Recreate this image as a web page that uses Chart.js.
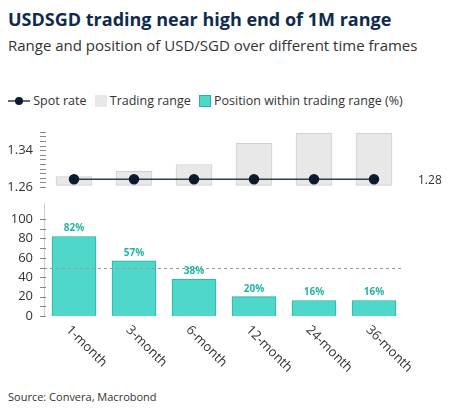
<!DOCTYPE html>
<html><head><meta charset="utf-8">
<script src="https://cdn.jsdelivr.net/npm/chart.js@4"></script>
<style>
body{margin:0;width:455px;height:416px;font-family:"Open Sans",sans-serif;background:#fff;position:relative;overflow:hidden}
#t{position:absolute;left:8px;top:7px;font-size:18px;font-weight:bold;color:#0d2b4e}
#s{position:absolute;left:8px;top:34px;font-size:15px;color:#333;line-height:22px;width:420px}
#lg{position:absolute;left:8px;top:92px;font-size:12.5px;color:#333;display:flex;align-items:center}
#lg span{display:inline-flex;align-items:center;margin-right:8px}
#src{position:absolute;left:8px;top:389px;font-size:11px;color:#333}
#c1{position:absolute;left:0;top:121px}
#c2{position:absolute;left:0;top:203px}
</style></head><body>
<div id="t">USDSGD trading near high end of 1M range</div>
<div id="s">Range and position of USD/SGD over different time frames</div>
<div id="lg">
<span><svg width="22" height="10"><line x1="0" y1="5" x2="22" y2="5" stroke="#2b3e50" stroke-width="1.5"/><circle cx="11" cy="5" r="4" fill="#0d1b2e"/></svg>&nbsp;Spot rate</span>
<span><svg width="12" height="12"><rect width="12" height="12" fill="#e8e8e8"/></svg>&nbsp;Trading range</span>
<span><svg width="12" height="12"><rect x="0.5" y="0.5" width="11" height="11" fill="#4fd8c9" stroke="#22b3a3"/></svg>&nbsp;Position within trading range (%)</span>
</div>
<canvas id="c1" width="455" height="80"></canvas>
<canvas id="c2" width="455" height="183"></canvas>
<div id="src">Source: Convera, Macrobond</div>
<script>
const periods = ['1-month','3-month','6-month','12-month','24-month','36-month'];
const rangeLow = [1.2635,1.2635,1.2635,1.2635,1.2635,1.2635];
const rangeHigh = [1.2826,1.294,1.309,1.355,1.377,1.377];
const spot = [1.277,1.277,1.277,1.277,1.277,1.277];
const position = [82,57,38,20,16,16];
const posLabels = ['82%','57%','38%','20%','16%','16%'];
const spotLabel = '1.28';

const font = {family:'"Open Sans",sans-serif'};
const yw = {afterFit: s => { s.width = 44; }};
const commonX = {offset:true, grid:{display:false}, border:{display:false}};

new Chart(document.getElementById('c1'), {
  data: {
    labels: periods,
    datasets: [
      {type:'line', data:spot, borderColor:'#2b3e50', borderWidth:1.5, pointRadius:4.5, pointBackgroundColor:'#0d1b2e', pointBorderColor:'#0d1b2e'},
      {type:'bar', data:periods.map((p,i)=>[rangeLow[i],rangeHigh[i]]), backgroundColor:'#e8e8e8', borderColor:'#cfcfcf', borderWidth:1, borderSkipped:false, barThickness:36}
    ]
  },
  options: {
    responsive:false, animation:false,
    layout:{padding:{left:0,right:51,top:10,bottom:6}},
    plugins:{legend:{display:false}, tooltip:{enabled:false}},
    scales:{
      x:{...commonX, ticks:{display:false}},
      y:{...yw, min:1.26, max:1.38, grid:{display:false}, border:{display:false},
         ticks:{stepSize:0.04, color:'#333', font:{...font,size:13}, callback:v=>v.toFixed(2)}}
    }
  },
  plugins:[{id:'side', afterDraw(c){
    const ctx=c.ctx, y=c.scales.y.getPixelForValue(spot[5]);
    ctx.save(); ctx.fillStyle='#333'; ctx.font='12px "Open Sans"'; ctx.textBaseline='middle';
    ctx.fillText(spotLabel, 418, y+1);
    ctx.strokeStyle='#888'; ctx.lineWidth=1;
    for(let v=1.26; v<=1.3801; v+=0.01){const py=Math.round(c.scales.y.getPixelForValue(v))+0.5; ctx.beginPath(); ctx.moveTo(40,py); ctx.lineTo(46,py); ctx.stroke();}
    ctx.restore();
  }}]
});

new Chart(document.getElementById('c2'), {
  type:'bar',
  data:{labels:periods, datasets:[{data:position, backgroundColor:'#4fd8c9', borderColor:'#22b3a3', borderWidth:1, barThickness:44}]},
  options:{
    responsive:false, animation:false,
    layout:{padding:{left:0,right:51,top:16,bottom:0}},
    plugins:{legend:{display:false}, tooltip:{enabled:false}},
    scales:{
      x:{...commonX, ticks:{display:false}, afterFit:s=>{s.height=70;}},
      y:{...yw, min:0, max:100, grid:{display:false}, border:{display:true,color:'#ccc'},
         ticks:{stepSize:20, color:'#333', font:{...font,size:13}}}
    }
  },
  plugins:[{id:'deco', afterDraw(c){
    const ctx=c.ctx, x=c.scales.x, y=c.scales.y, a=c.chartArea;
    ctx.save();
    ctx.strokeStyle='#ccc'; ctx.beginPath(); ctx.moveTo(a.left+0.5,0); ctx.lineTo(a.left+0.5,a.top); ctx.stroke();
    ctx.strokeStyle='#999'; ctx.setLineDash([3,3]); ctx.lineWidth=1;
    const y50=Math.round(y.getPixelForValue(50))+0.5;
    ctx.beginPath(); ctx.moveTo(a.left,y50); ctx.lineTo(a.right,y50); ctx.stroke();
    ctx.setLineDash([]); ctx.strokeStyle='#888';
    for(let v=0; v<=100; v+=10){const py=Math.round(y.getPixelForValue(v))+0.5; ctx.beginPath(); ctx.moveTo(40,py); ctx.lineTo(46,py); ctx.stroke();}
    ctx.fillStyle='#22b3a3'; ctx.font='bold 10px "Open Sans"'; ctx.textAlign='center';
    position.forEach((v,i)=>ctx.fillText(posLabels[i], x.getPixelForValue(i), y.getPixelForValue(v)-5));
    ctx.fillStyle='#333'; ctx.font='13px "Open Sans"'; ctx.textAlign='left'; ctx.textBaseline='middle';
    periods.forEach((p,i)=>{ctx.save(); ctx.translate(x.getPixelForValue(i)-6, a.bottom+12); ctx.rotate(Math.PI/4); ctx.fillText(p,0,0); ctx.restore();});
    ctx.restore();
  }}]
});
</script>
</body></html>
